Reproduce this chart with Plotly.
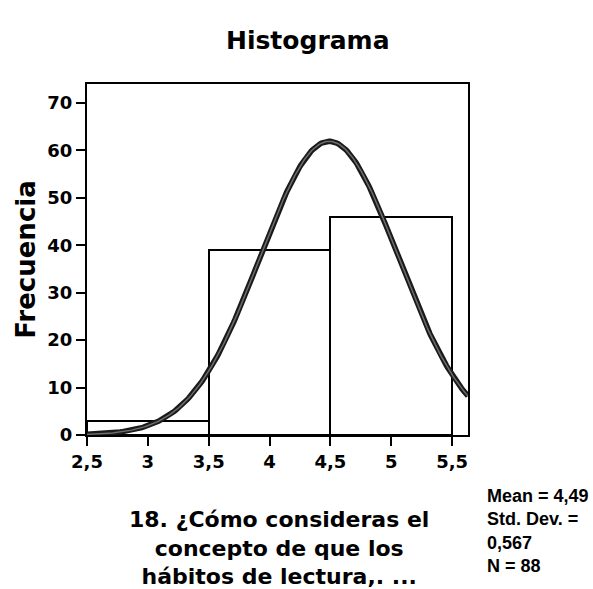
import numpy as np
import plotly.graph_objects as go

# Histogram bins (class centres, width 1) and their frequencies
bin_centers = [3.0, 4.0, 5.0]
frequencies = [3, 39, 46]
bin_width = 1.0

# Summary statistics shown beside the chart
mean_val = 4.49
std_dev = 0.567
n_obs = 88

x_ticks = [2.5, 3.0, 3.5, 4.0, 4.5, 5.0, 5.5]
x_tick_text = ["2,5", "3", "3,5", "4", "4,5", "5", "5,5"]
y_ticks = [0, 10, 20, 30, 40, 50, 60, 70]

FONT = "Liberation Sans, Arial, sans-serif"
HEAVY = "DejaVu Sans, Verdana, sans-serif"
NARROW = "Liberation Sans Narrow, Arial Narrow, Liberation Sans, sans-serif"

# Normal curve scaled to counts (N * bin width)
xc = np.linspace(2.5, 5.63, 300)
yc = n_obs * bin_width / (std_dev * np.sqrt(2 * np.pi)) * np.exp(-0.5 * ((xc - mean_val) / std_dev) ** 2)

fig = go.Figure()
fig.add_trace(go.Bar(
    x=bin_centers, y=frequencies, width=bin_width,
    marker=dict(color="white", line=dict(color="black", width=2)),
    hoverinfo="skip",
))
# thick dark curve with a lighter core
fig.add_trace(go.Scatter(
    x=xc, y=yc, mode="lines",
    line=dict(color="#1a1a1a", width=5.5),
    hoverinfo="skip",
))
fig.add_trace(go.Scatter(
    x=xc, y=yc, mode="lines",
    line=dict(color="#6e6e6e", width=1.5),
    hoverinfo="skip",
))

fig.update_layout(
    width=593, height=589,
    margin=dict(l=87, r=125, t=84, b=154),
    paper_bgcolor="white", plot_bgcolor="white",
    showlegend=False,
    bargap=0,
    font=dict(family=FONT, color="black"),
    title=dict(text="<b>Histograma</b>", x=0.519, xanchor="center", y=0.932, yanchor="middle",
               font=dict(size=25, family=HEAVY, color="black")),
)

fig.update_xaxes(
    range=[2.5, 5.63], tickvals=x_ticks, ticktext=x_tick_text,
    showgrid=False, zeroline=False,
    showline=True, linecolor="black", linewidth=2, mirror=True,
    ticks="outside", ticklen=9, tickwidth=2, tickcolor="black",
    tickfont=dict(size=18, family=HEAVY, color="black", weight="bold"),
)
fig.update_yaxes(
    range=[0, 74], tickvals=y_ticks,
    showgrid=False, zeroline=False,
    showline=True, linecolor="black", linewidth=2, mirror=True,
    ticks="outside", ticklen=9, tickwidth=2, tickcolor="black",
    tickfont=dict(size=18, family=HEAVY, color="black", weight="bold"),
    title=dict(text="<b>Frecuencia</b>", font=dict(size=26, family=HEAVY, color="black"), standoff=4),
)

# x-axis title in three lines
fig.add_annotation(
    text="<b>18. ¿Cómo consideras el<br>concepto de que los<br>hábitos de lectura,. ...</b>",
    xref="paper", yref="paper", x=0.505, y=-0.2, xanchor="center", yanchor="top",
    showarrow=False, align="center",
    font=dict(size=22, family=HEAVY, color="black"),
)

# statistics block
fig.add_annotation(
    text=f"Mean = {mean_val:.2f}".replace(".", ",") + "<br>Std. Dev. =<br>"
         + f"{std_dev:.3f}".replace(".", ",") + f"<br>N = {n_obs}",
    xref="paper", yref="paper", x=1.045, y=-0.14, xanchor="left", yanchor="top",
    showarrow=False, align="left",
    font=dict(size=18, family=NARROW, color="black", weight="bold"),
)

fig.write_html("out.html")
